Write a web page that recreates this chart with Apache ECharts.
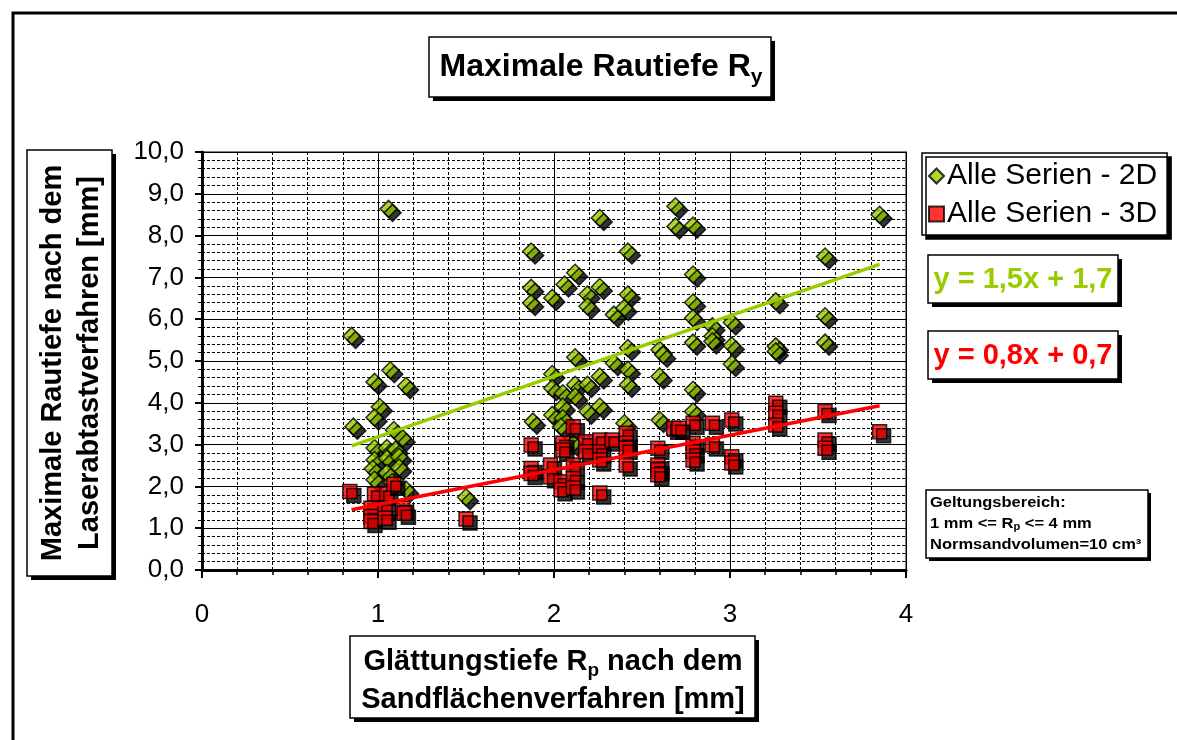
<!DOCTYPE html>
<html>
<head>
<meta charset="utf-8">
<script src="https://cdn.jsdelivr.net/npm/echarts@6/dist/echarts.min.js"></script>
<style>
html,body{margin:0;padding:0;background:#fff;}
#chart{width:1177px;height:740px;}
</style>
</head>
<body>
<div id="chart"></div>
<script>
// ---- Data ----
const x2D = [0.85,1.06,1.07,0.98,1.16,1.01,0.98,0.86,1.09,1.14,0.98,1.05,1.10,0.98,1.05,1.12,0.97,1.05,1.12,0.98,1.08,1.16,1.50,
  1.87,1.87,1.87,1.99,2.06,2.12,2.19,2.19,2.26,2.26,2.34,2.40,2.42,2.42,2.69,2.69,2.79,2.79,2.79,2.79,2.79,2.42,2.60,2.62,2.12,
  1.99,2.26,2.34,2.42,2.42,2.60,1.99,2.05,2.12,2.19,2.12,2.79,1.88,1.99,2.05,2.05,2.04,2.19,2.26,2.40,2.60,2.11,2.79,
  3.85,3.54,3.26,3.54,3.54,2.90,2.90,2.90,3.01,3.01,3.01,3.26,3.26];
const y2D = [5.60,8.64,4.78,4.50,4.40,3.90,3.65,3.43,3.35,3.15,2.92,2.92,2.88,2.63,2.67,2.71,2.42,2.32,2.45,2.16,2.10,1.92,1.74,
  7.62,6.75,6.39,6.51,6.83,7.11,6.59,6.31,6.77,8.42,6.11,6.27,6.59,7.62,8.70,8.22,8.24,7.07,6.40,6.03,5.44,5.31,5.27,5.15,5.09,
  4.69,4.63,4.95,4.79,4.43,4.63,4.35,4.23,4.43,4.43,4.15,4.31,3.55,3.71,3.91,3.63,3.43,3.79,3.91,3.51,3.59,3.03,3.79,
  8.50,7.50,6.43,6.07,5.44,5.83,5.59,5.47,5.92,5.37,4.93,5.35,5.23];
const x3D = [0.84,0.98,1.05,1.09,0.96,0.96,0.96,1.04,1.04,1.14,1.15,1.50,
  1.87,1.87,1.87,1.98,1.98,2.05,2.05,2.04,2.04,2.11,2.11,2.11,2.11,2.18,2.18,2.26,2.26,2.26,2.26,2.33,2.41,2.41,2.41,2.41,
  2.59,2.59,2.59,2.59,2.68,2.79,2.79,2.79,2.79,2.71,2.90,2.90,3.01,3.01,3.01,3.26,3.26,3.26,3.54,3.54,3.54,3.85];
const y3D = [1.88,1.82,1.82,2.05,1.48,1.28,1.16,1.48,1.24,1.48,1.36,1.22,
  2.99,2.43,2.31,2.51,2.23,3.03,2.87,2.11,1.92,3.43,2.51,2.19,1.96,3.07,2.83,3.11,2.83,2.63,1.84,3.11,3.27,3.03,2.91,2.51,
  2.91,2.51,2.40,2.28,3.39,3.51,3.03,2.83,2.63,3.39,3.51,2.99,3.59,2.71,2.56,3.99,3.75,3.47,3.79,3.11,2.91,3.31];
// trend line end points
const trendX2D = [0.85, 3.85];
const trendY2D = [2.97, 7.31];
const trendX3D = [0.85, 3.85];
const trendY3D = [1.44, 3.93];
const seriesNames = ['Alle Serien - 2D', 'Alle Serien - 3D'];
const xTicks = [0, 1, 2, 3, 4];
const titleText = 'Maximale Rautiefe R';
const eq2D = 'y = 1,5x + 1,7';
const eq3D = 'y = 0,8x + 0,7';

const zip = (a, b) => a.map((v, i) => [v, b[i]]);

const GREEN = '#99CC00', RED = '#FF0000';
const FF = '"Liberation Sans", Arial, sans-serif';

const mctx = document.createElement('canvas').getContext('2d');
function tw(t, font) { mctx.font = font; return mctx.measureText(t).width; }
function fontStr(seg) { return (seg.bold ? 'bold ' : '') + seg.size + 'px ' + FF; }

// lines: array of arrays of segments {t,size,bold,dy,color}
function textBlock(cx, cy, lines, gap, rotation, align, sx) {
  const children = [];
  const n = lines.length;
  lines.forEach((segs, i) => {
    const w = segs.reduce((s, g) => s + tw(g.t, fontStr(g)), 0);
    let x = align === 'left' ? 0 : -w / 2;
    const ly = (i - (n - 1) / 2) * gap;
    segs.forEach(g => {
      children.push({
        type: 'text', x: x, y: ly + (g.dy || 0), z: 100,
        style: { text: g.t, font: fontStr(g), fill: g.color || '#000', align: 'left', verticalAlign: 'middle' }
      });
      x += tw(g.t, fontStr(g));
    });
  });
  return { type: 'group', x: cx, y: cy, rotation: rotation || 0, scaleX: sx || 1, children: children, z: 100 };
}
function box(x, y, w, h, sh) {
  return [
    { type: 'rect', shape: { x: x + sh, y: y + sh, width: w, height: h }, style: { fill: '#000' }, z: 90 },
    { type: 'rect', shape: { x: x, y: y, width: w, height: h }, style: { fill: '#fff', stroke: '#000', lineWidth: 1.5 }, z: 91 }
  ];
}

const graphics = [].concat(
  [{ type: 'polyline', shape: { points: [[13, 740], [13, 13], [1177, 13]] }, style: { stroke: '#000', lineWidth: 3, fill: null }, z: 80 }],
  box(429, 37, 342, 60, 4),
  [textBlock(601, 67, [[{ t: titleText, size: 32, bold: true }, { t: 'y', size: 21, bold: true, dy: 10 }]], 0)],
  box(27, 150, 85, 426, 4),
  [textBlock(71, 363, [[{ t: 'Maximale Rautiefe nach dem', size: 29, bold: true }], [{ t: 'Laserabtastverfahren [mm]', size: 29, bold: true }]], 37, Math.PI / 2)],
  box(350, 636, 405, 82, 4),
  [textBlock(553, 681, [[{ t: 'Glättungstiefe R', size: 29, bold: true }, { t: 'p', size: 19, bold: true, dy: 9 }, { t: ' nach dem', size: 29, bold: true }], [{ t: 'Sandflächenverfahren [mm]', size: 29, bold: true }]], 38, 0)],
  box(928, 255, 190, 48, 4),
  [textBlock(1023, 280, [[{ t: eq2D, size: 29, bold: true, color: GREEN }]], 0)],
  box(928, 331, 190, 48, 4),
  [textBlock(1023, 356, [[{ t: eq3D, size: 29, bold: true, color: RED }]], 0)],
  box(926, 490, 222, 68, 3),
  [textBlock(930, 524, [
    [{ t: 'Geltungsbereich:', size: 15, bold: true }],
    [{ t: '1 mm <= R', size: 15, bold: true }, { t: 'p', size: 10, bold: true, dy: 3 }, { t: ' <= 4 mm', size: 15, bold: true }],
    [{ t: 'Normsandvolumen=10 cm³', size: 15, bold: true }]
  ], 21, 0, 'left', 1.1)]
);

const chart = echarts.init(document.getElementById('chart'), null, { renderer: 'canvas' });
const shadow = { shadowColor: '#000', shadowBlur: 0, shadowOffsetX: 4, shadowOffsetY: 4 };
chart.setOption({
  animation: false,
  backgroundColor: '#fff',
  grid: { left: 202, right: 271, top: 152, bottom: 170, show: true, borderColor: '#808080', borderWidth: 2, backgroundColor: '#fff' },
  legend: {
    data: [{ name: seriesNames[0], icon: 'diamond' }, { name: seriesNames[1], icon: 'rect' }],
    orient: 'vertical', left: 922, top: 153, itemGap: 8, itemWidth: 15, itemHeight: 15,
    padding: [8, 10, 6, 6],
    textStyle: { fontFamily: FF, fontSize: 30, color: '#000', padding: [0, 0, 0, -2] },
    borderColor: '#000', borderWidth: 1.5, backgroundColor: '#fff',
    shadowColor: '#000', shadowBlur: 0, shadowOffsetX: 4, shadowOffsetY: 4
  },
  xAxis: {
    type: 'value', min: 0, max: 4, interval: 1,
    axisLine: { lineStyle: { color: '#000', width: 3 } },
    axisTick: { show: true, length: 8, lineStyle: { color: '#000', width: 2 } },
    minorTick: { show: true, splitNumber: 5, length: 5, lineStyle: { color: '#000', width: 1.5 } },
    splitLine: { show: true, lineStyle: { color: '#000', width: 1 } },
    minorSplitLine: { show: true, lineStyle: { color: '#000', width: 1, type: [3, 2] } },
    axisLabel: { fontFamily: FF, fontSize: 26, color: '#000', margin: 32, formatter: v => xTicks.indexOf(v) >= 0 ? String(v) : '' }
  },
  yAxis: {
    type: 'value', min: 0, max: 10, interval: 1,
    axisLine: { lineStyle: { color: '#000', width: 3 } },
    axisTick: { show: true, length: 7, lineStyle: { color: '#000', width: 2 } },
    minorTick: { show: true, splitNumber: 5, length: 4, lineStyle: { color: '#000', width: 1 } },
    splitLine: { show: true, lineStyle: { color: '#000', width: 1 } },
    minorSplitLine: { show: true, lineStyle: { color: '#000', width: 1, type: [3, 2] } },
    axisLabel: { fontFamily: FF, fontSize: 26, color: '#000', margin: 18, formatter: v => v.toFixed(1).replace('.', ',') }
  },
  series: [
    { name: seriesNames[0], type: 'scatter', symbol: 'diamond', symbolSize: 17, z: 3,
      itemStyle: Object.assign({ color: GREEN, borderColor: '#000', borderWidth: 1.5 }, shadow),
      data: zip(x2D, y2D) },
    { name: seriesNames[1], type: 'scatter', symbol: 'rect', symbolSize: 14, z: 4,
      itemStyle: Object.assign({ color: RED, borderColor: '#000', borderWidth: 1.5 }, shadow),
      data: zip(x3D, y3D) },
    { name: 'trend2D', type: 'line', symbol: 'none', z: 5, silent: true,
      lineStyle: { color: GREEN, width: 3.5 }, data: zip(trendX2D, trendY2D) },
    { name: 'trend3D', type: 'line', symbol: 'none', z: 5, silent: true,
      lineStyle: { color: RED, width: 3.5 }, data: zip(trendX3D, trendY3D) }
  ],
  graphic: graphics
});
</script>
</body>
</html>
